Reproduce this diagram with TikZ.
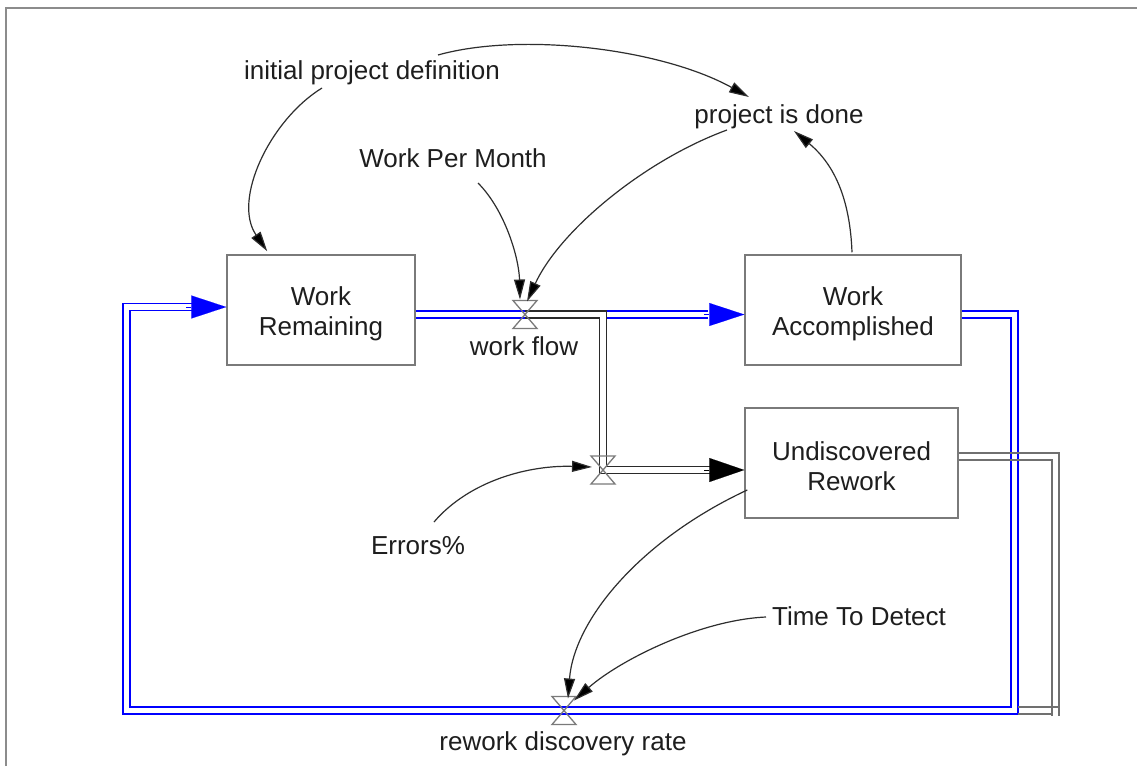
\documentclass[tikz,border=0pt]{standalone}
\usepackage{fontspec}
\setmainfont{Liberation Sans}
\usetikzlibrary{arrows.meta,calc}

\definecolor{framegrey}{HTML}{8C8C8C}
\definecolor{boxgrey}{HTML}{7A7A7A}
\definecolor{pipegrey}{HTML}{707070}
\definecolor{pipedark}{HTML}{2A2A2A}
\definecolor{linkgrey}{HTML}{2E2E2E}
\definecolor{textdark}{HTML}{1E1E1E}

\tikzset{
  lbl/.style={anchor=base, inner sep=0pt, text=textdark,
    font=\fontsize{26pt}{30pt}\selectfont},
  stock/.style={draw=boxgrey, line width=1.5pt, fill=white, align=center,
    minimum height=110pt, inner sep=0pt, text=textdark,
    font=\fontsize{26pt}{30pt}\selectfont},
  bluepipe/.style={draw=blue, line width=1.7pt, double=white,
    double distance=5.1pt, line join=miter},
  darkpipe/.style={draw=pipedark, line width=1.7pt, double=white,
    double distance=5.1pt, line join=miter},
  greyline/.style={draw=pipegrey, line width=1.6pt},
  bluetip/.style={blue, line width=0.1pt,
    -{Triangle[length=35pt,width=23pt]}},
  darktip/.style={black, line width=0.1pt,
    -{Triangle[length=35pt,width=24pt]}},
  link/.style={draw=linkgrey, line width=1.2pt,
    -{Triangle[length=20pt,width=11pt,fill=black]}},
  valve/.pic={\draw[boxgrey, line width=1.3pt, line join=miter]
    (-12,-14) -- (12,-14) -- (-12,14) -- (12,14) -- cycle;}
}
% invisible strut that lowers the first line of a stock label
\newcommand{\toplift}{\rule{0pt}{26pt}}

\begin{document}
\begin{tikzpicture}[x=1pt,y=-1pt]
\useasboundingbox (0,0) rectangle (1137,766);
\fill[white] (0,0) rectangle (1137,766);

% outer frame
\draw[framegrey, line width=2pt] (6,766) -- (6,8) -- (1137,8);

% stocks
\node[stock, minimum width=188pt] (WR) at (321,310) {\toplift Work\\Remaining};
\node[stock, minimum width=216pt] (WA) at (853,310) {\toplift Work\\Accomplished};
\node[stock, minimum width=213pt] (UR) at (851.5,463) {\toplift Undiscovered\\Rework};

% valve centres
\coordinate (wf) at (525,314.5);
\coordinate (ev) at (603,470);
\coordinate (rv) at (564,710.5);

% variables
\node[lbl] (ipd) at (372,79) {initial project definition};
\node[lbl] (pid) at (779,123) {project is done};
\node[lbl] (wpm) at (453,167) {Work Per Month};
\node[lbl] (wfl) at (524,355) {work flow};
\node[lbl] (err) at (418,554) {Errors\%};
\node[lbl] (ttd) at (859,625) {Time To Detect};
\node[lbl] (rdr) at (563,750) {rework discovery rate};

% main work flow pipe
\draw[bluepipe] ($(WR.east)+(0,4.5)$) -- ($(WA.west)+(-36,4.5)$);
\draw[bluetip] ($(WA.west)+(-40,4.5)$) -- ($(WA.west)+(0,4.5)$);

% rework loop back to Work Remaining
\draw[bluepipe] ($(WA.east)+(0,4.5)$) -| ($(rv)+(450.5,0)$)
  -| ($(WR.west)+(-100,-3)$) -- ($(WR.west)+(-33,-3)$);
\draw[bluetip] ($(WR.west)+(-40,-3)$) -- ($(WR.west)+(0,-3)$);

% error flow into Undiscovered Rework
\draw[darkpipe] (wf) -| (ev) -- ($(UR.west)+(-33,7)$);
\draw[darktip] ($(UR.west)+(-40,7)$) -- ($(UR.west)+(0,7)$);

% outflow pipe of Undiscovered Rework
\draw[greyline] ($(UR.east)+(0,-10)$) -- (1059,453) -- (1059,716);
\draw[greyline] ($(UR.east)+(0,-3)$) -- (1052,460) -- (1052,716);
\draw[greyline] (1018,707) -- (1059,707);
\draw[greyline] (1018,714) -- (1052,714);

% valves
\pic at (wf) {valve};
\pic at (ev) {valve};
\pic at (rv) {valve};

% information links
\draw[link] ($(ipd.base)+(-50,9)$) .. controls (270,120) and (232,200)
  .. ($(WR.north west)+(41,-3)$);
\draw[link] ($(ipd.base)+(66,-24)$) .. controls (520,32) and (660,48)
  .. ($(pid.base)+(-30,-26)$);
\draw[link] ($(wpm.base)+(25,16)$) .. controls (505,210) and (519,258)
  .. ($(wf)+(-5,-15)$);
\draw[link] ($(pid.base)+(-52,7)$) .. controls (645,160) and (560,230)
  .. ($(wf)+(2,-13)$);
\draw[link] ($(WA.north)+(-1,-2)$) .. controls (850,200) and (835,165)
  .. ($(pid.base)+(15,8)$);
\draw[link] ($(err.base)+(16,-32)$) .. controls (470,480) and (530,465)
  .. ($(ev)+(-11,-3)$);
\draw[link] ($(UR.west)+(3,27)$) .. controls (640,540) and (574,620)
  .. ($(rv)+(4,-12)$);
\draw[link] ($(ttd.base)+(-93,-8)$) .. controls (700,620) and (620,660)
  .. ($(rv)+(10,-10)$);
\end{tikzpicture}
\end{document}
